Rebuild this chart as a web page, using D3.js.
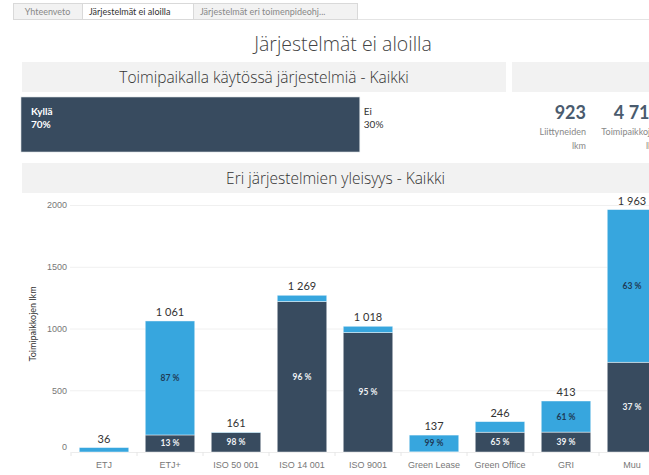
<!DOCTYPE html>
<html>
<head>
<meta charset="utf-8">
<script src="https://cdn.jsdelivr.net/npm/d3@7"></script>
<style>
  body { margin: 0; background: #fff; overflow: hidden; }
  svg { display: block; font-family: Lato, "Open Sans", sans-serif; }
  .ttl { font-family: "Open Sans", Lato, sans-serif; }
</style>
</head>
<body>
<div class="chart"></div>
<script>
// tabs + titles
const tabs = ["Yhteenveto", "Järjestelmät ei aloilla", "Järjestelmät eri toimenpideohj..."];
const activeTab = 1;
const pageTitle = "Järjestelmät ei aloilla";
const usageTitle = "Toimipaikalla käytössä järjestelmiä - Kaikki";
const chartTitle = "Eri järjestelmien yleisyys - Kaikki";

// top share bar
const usageLabels = ["Kyllä", "Ei"];
const usageShares = [0.7, 0.3];

// KPI numbers (second one is cut at the edge)
const kpiValues = [923, 4716];
const kpiLabels = [["Liittyneiden", "lkm"], ["Toimipaikkojen", "lkm"]];

// stacked bars
const systems = ["ETJ", "ETJ+", "ISO 50 001", "ISO 14 001", "ISO 9001", "Green Lease", "Green Office", "GRI", "Muu"];
const totals = [36, 1061, 161, 1269, 1018, 137, 246, 413, 1963];
const darkShares = [0, 0.13, 0.98, 0.96, 0.95, 0.01, 0.65, 0.39, 0.37];
const yTicks = [0, 500, 1000, 1500, 2000];
const yTitle = "Toimipaikkojen lkm";

const width = 649, height = 475;
const dark = "#384b5f", light = "#37a6de";

const loc = d3.formatLocale({ decimal: ",", thousands: " ", grouping: [3], currency: ["", "€"], percent: "\u00a0%" });
const fmtNum = loc.format(",d");
const fmtPct = loc.format(".0%");

const svg = d3.select(".chart").append("svg")
  .attr("width", width).attr("height", height);

// ---- tab strip
const tabX = [13, 82, 193, 357];
svg.append("line")
  .attr("x1", 13).attr("x2", width).attr("y1", 19.5).attr("y2", 19.5)
  .attr("stroke", "#e4e4e4");
const tabG = svg.append("g").selectAll("g").data(tabs).enter().append("g");
tabG.append("rect")
  .attr("x", (d, i) => tabX[i] + 0.5).attr("y", 3.5)
  .attr("width", (d, i) => tabX[i + 1] - tabX[i]).attr("height", 16)
  .attr("fill", (d, i) => i === activeTab ? "#fff" : "#f2f2f2")
  .attr("stroke", "#d9d9d9");
tabG.append("text")
  .attr("x", (d, i) => i === 0 ? (tabX[0] + tabX[1]) / 2 : tabX[i] + 7)
  .attr("y", 15)
  .attr("text-anchor", (d, i) => i === 0 ? "middle" : "start")
  .attr("font-size", "9px")
  .attr("fill", (d, i) => i === activeTab ? "#333" : "#888")
  .text(d => d);

// ---- page title
svg.append("text")
  .attr("class", "ttl")
  .attr("x", 343).attr("y", 51)
  .attr("text-anchor", "middle")
  .attr("font-size", "19.5px").attr("font-weight", 300)
  .attr("fill", "#444")
  .text(pageTitle);

// ---- panel headers
const headers = [
  { x: 22, y: 62, w: 484, t: usageTitle },
  { x: 512, y: 62, w: 137, t: "" },
  { x: 22, y: 163, w: 627, t: chartTitle }
];
svg.append("g").selectAll("rect").data(headers).enter().append("rect")
  .attr("x", d => d.x).attr("y", d => d.y)
  .attr("width", d => d.w).attr("height", 30)
  .attr("fill", "#f2f2f2");
svg.append("g").selectAll("text").data(headers).enter().append("text")
  .attr("class", "ttl")
  .attr("x", d => d.x + d.w / 2).attr("y", d => d.y + 21)
  .attr("text-anchor", "middle")
  .attr("font-size", "15.5px").attr("font-weight", 300).attr("fill", "#333")
  .text(d => d.t);

// ---- usage share bar
const xShare = d3.scaleLinear().domain([0, 1]).range([21, 505]);
const starts = d3.cumsum([0].concat(usageShares.slice(0, -1)));
svg.append("rect")
  .attr("x", xShare(0)).attr("y", 97)
  .attr("width", xShare(usageShares[0]) - xShare(0)).attr("height", 55)
  .attr("fill", dark).attr("stroke", "#d8dde2").attr("stroke-width", 0.6);
const usageG = svg.append("g").selectAll("g").data(usageLabels).enter().append("g");
usageG.append("text")
  .attr("x", (d, i) => xShare(starts[i]) + (i === 0 ? 10 : 4))
  .attr("y", 115)
  .attr("font-size", "10px")
  .attr("font-weight", (d, i) => i === 0 ? "bold" : "normal")
  .attr("fill", (d, i) => i === 0 ? "#fff" : "#333")
  .text(d => d);
usageG.append("text")
  .attr("x", (d, i) => xShare(starts[i]) + (i === 0 ? 10 : 4))
  .attr("y", 128)
  .attr("font-size", "10px")
  .attr("font-weight", (d, i) => i === 0 ? "bold" : "normal")
  .attr("fill", (d, i) => i === 0 ? "#fff" : "#333")
  .text((d, i) => Math.round(usageShares[i] * 100) + "%");

// ---- KPI block
const kpiRight = [586, 660];
const kpiG = svg.append("g").selectAll("g").data(kpiValues).enter().append("g");
kpiG.append("text")
  .attr("x", (d, i) => kpiRight[i]).attr("y", 119)
  .attr("text-anchor", "end")
  .attr("font-size", "18px").attr("font-weight", "bold")
  .attr("fill", "#4a5b6e")
  .text(d => fmtNum(d));
kpiG.each(function (d, i) {
  d3.select(this).selectAll(".lab").data(kpiLabels[i]).enter().append("text")
    .attr("x", kpiRight[i]).attr("y", (t, j) => 135 + j * 14)
    .attr("text-anchor", "end")
    .attr("font-size", "9px").attr("fill", "#888")
    .text(t => t);
});

// ---- stacked bar chart
const margin = { top: 205, bottom: 452, left: 71, right: 665 };
const x = d3.scaleBand().domain(systems).range([margin.left, margin.right]).paddingInner(0.25).paddingOuter(0.125);
const y = d3.scaleLinear().domain([0, 2000]).range([margin.bottom, margin.top]);

// grid
svg.append("g").selectAll("line").data(yTicks.slice(1)).enter().append("line")
  .attr("x1", 70).attr("x2", width)
  .attr("y1", d => y(d) + 0.5).attr("y2", d => y(d) + 0.5)
  .attr("stroke", "#f0f0f0");

// y axis labels
const yAxis = d3.axisLeft(y).tickValues(yTicks).tickSize(0).tickPadding(0).tickFormat(d3.format("d"));
const yG = svg.append("g").attr("transform", "translate(67,0)").call(yAxis);
yG.select(".domain").remove();
yG.selectAll("text").attr("font-size", "9px").attr("fill", "#777").attr("font-family", null)
  .attr("dy", d => d === 0 ? "-0.3em" : "0.32em");

svg.append("text")
  .attr("transform", "translate(36, 324) rotate(-90)")
  .attr("text-anchor", "middle")
  .attr("font-size", "9px").attr("fill", "#333")
  .text(yTitle);

// x axis
const xAxis = d3.axisBottom(x).tickSize(0).tickPadding(10);
const xG = svg.append("g").attr("transform", `translate(0, ${y(0)})`).call(xAxis);
xG.select(".domain").attr("stroke", "#ececec");
xG.selectAll("text").attr("font-size", "9px").attr("fill", "#777").attr("font-family", null);
svg.append("g").selectAll("line").data(systems).enter().append("line")
  .attr("x1", d => x(d) - x.step() * x.paddingInner() / 2)
  .attr("x2", d => x(d) - x.step() * x.paddingInner() / 2)
  .attr("y1", y(0)).attr("y2", y(0) + 4)
  .attr("stroke", "#e6e6e6");

// segments
const segs = [];
systems.forEach((s, i) => {
  const d = totals[i] * darkShares[i];
  segs.push({ s, y0: 0, y1: d, share: darkShares[i], fill: dark, txt: "#eef1f4" });
  segs.push({ s, y0: d, y1: totals[i], share: 1 - darkShares[i], fill: light, txt: "#1f3b57" });
});

svg.append("g").selectAll("rect").data(segs.filter(d => d.y1 > d.y0)).enter().append("rect")
  .attr("x", d => x(d.s))
  .attr("y", d => y(d.y1))
  .attr("width", x.bandwidth())
  .attr("height", d => y(d.y0) - y(d.y1))
  .attr("fill", d => d.fill)
  .attr("stroke", "rgba(255,255,255,0.55)").attr("stroke-width", 0.8);

svg.append("g").selectAll("text").data(segs.filter(d => y(d.y0) - y(d.y1) >= 14)).enter().append("text")
  .attr("x", d => x(d.s) + x.bandwidth() / 2)
  .attr("y", d => (y(d.y0) + y(d.y1)) / 2 + 3)
  .attr("text-anchor", "middle")
  .attr("font-size", "8.5px").attr("font-weight", "bold")
  .attr("fill", d => d.txt)
  .text(d => fmtPct(d.share));

svg.append("g").selectAll("text").data(systems).enter().append("text")
  .attr("x", d => x(d) + x.bandwidth() / 2)
  .attr("y", (d, i) => y(totals[i]) - 5)
  .attr("text-anchor", "middle")
  .attr("font-size", "11px").attr("fill", "#333")
  .text((d, i) => fmtNum(totals[i]));
</script>
</body>
</html>
